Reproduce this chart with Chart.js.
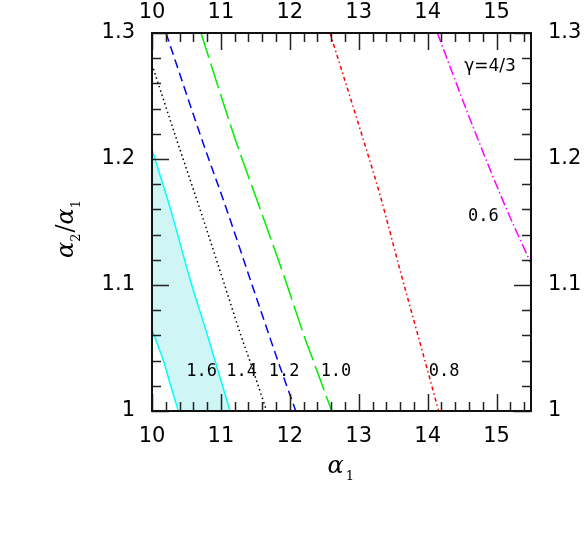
<!DOCTYPE html>
<html><head><meta charset="utf-8">
<script src="https://cdn.jsdelivr.net/npm/chart.js@4.4.0/dist/chart.umd.min.js"></script>
<style>html,body{margin:0;padding:0;background:#fff}#wrap{width:586px;height:545px}</style>
</head><body><div id="wrap"><canvas id="c" width="586" height="545"></canvas></div>
<script>
// ---- tick labels ----
const xTickValues = [10, 11, 12, 13, 14, 15];
const yTickValues = [1, 1.1, 1.2, 1.3];

// ---- curves (alpha1 values, alpha2/alpha1 values) ----
const cyanUpperX = [10.0, 10.27, 10.555, 10.805, 10.914, 11.132];
const cyanUpperY = [1.2076, 1.16, 1.104, 1.06, 1.04, 1.0];
const cyanLowerX = [10.0, 10.164, 10.271, 10.382];
const cyanLowerY = [1.0645, 1.04, 1.02, 1.0];
const blackX = [10.0, 10.358, 10.697, 11.03, 11.29, 11.418, 11.664];
const blackY = [1.275, 1.2153, 1.16, 1.104, 1.06, 1.04, 1.0];
const blueX = [10.203, 10.725, 11.083, 11.428, 11.70, 11.825, 12.086];
const blueY = [1.3, 1.2153, 1.16, 1.104, 1.06, 1.04, 1.0];
const greenX = [10.711, 11.21, 11.572, 11.935, 12.205, 12.34, 12.608];
const greenY = [1.3, 1.2153, 1.16, 1.104, 1.06, 1.04, 1.0];
const redX = [12.583, 13.019, 13.309, 13.599, 13.91, 14.16];
const redY = [1.3, 1.2238, 1.1714, 1.1119, 1.05, 1.0];
const magentaX = [14.141, 14.62, 15.109, 15.5];
const magentaY = [1.3, 1.231, 1.1648, 1.117];

// ---- curve labels ----
const labelTexts = ['1.6', '1.4', '1.2', '1.0', '0.8', '0.6', 'γ=4/3'];
const labelX = [10.721, 11.302, 11.916, 12.67, 14.24, 14.81, 14.906];
const labelY = [1.0314, 1.0314, 1.0314, 1.0314, 1.0314, 1.1544, 1.2735];

const pts = (xs, ys) => xs.map((v, i) => ({x: v, y: ys[i]}));
const fillShape = pts(cyanUpperX, cyanUpperY).concat(pts(cyanLowerX, cyanLowerY).reverse());

const line = (data, color, dash, order) => ({
  data, borderColor: color, borderWidth: 1.5, borderDash: dash, pointRadius: 0,
  fill: false, cubicInterpolationMode: 'monotone', order: order || 0
});

const TICKFONT = {family: 'DejaVu Sans', size: 21, weight: 'normal'};

const inwardTicks = {
  id: 'inwardTicks',
  afterDatasetsDraw(chart) {
    const {ctx, chartArea: a, scales} = chart;
    const x = scales.x, y = scales.y;
    ctx.save();
    ctx.strokeStyle = '#222';
    ctx.lineWidth = 1.5;
    ctx.beginPath();
    for (let i = 0; i <= 27; i++) {
      const v = 10 + i * 0.2;
      const L = (i % 5 === 0) ? 17 : 9;
      const px = Math.round(x.getPixelForValue(v)) + 0.5;
      ctx.moveTo(px, a.bottom); ctx.lineTo(px, a.bottom - L);
      ctx.moveTo(px, a.top); ctx.lineTo(px, a.top + L);
    }
    for (let i = 0; i <= 15; i++) {
      const v = 1 + i * 0.02;
      const L = (i % 5 === 0) ? 17 : 9;
      const py = Math.round(y.getPixelForValue(v)) + 0.5;
      ctx.moveTo(a.left, py); ctx.lineTo(a.left + L, py);
      ctx.moveTo(a.right, py); ctx.lineTo(a.right - L, py);
    }
    ctx.stroke();
    ctx.lineWidth = 2;
    ctx.strokeStyle = '#111';
    ctx.strokeRect(a.left, a.top, a.right - a.left, a.bottom - a.top);

    // curve labels
    ctx.fillStyle = '#000';
    ctx.textAlign = 'center';
    ctx.textBaseline = 'middle';
    labelTexts.forEach((t, i) => {
      ctx.font = (t.indexOf('γ') >= 0) ? '17px "DejaVu Sans"' : '17px "DejaVu Sans Mono"';
      ctx.fillText(t, x.getPixelForValue(labelX[i]), y.getPixelForValue(labelY[i]));
    });

    // axis titles
    ctx.textAlign = 'left';
    ctx.textBaseline = 'alphabetic';
    const cx = (a.left + a.right) / 2;
    ctx.font = 'italic 24px "DejaVu Serif"';
    ctx.fillText('α', cx - 14, a.bottom + 62);
    let w = ctx.measureText('α').width;
    ctx.font = '13px "DejaVu Serif"';
    ctx.fillText('1', cx - 14 + w + 2, a.bottom + 69);

    ctx.translate(a.left - 79, a.top + 225);
    ctx.rotate(-Math.PI / 2);
    let pos = 0;
    const part = (t, font, dy, gap) => {
      ctx.font = font; ctx.fillText(t, pos, dy); pos += ctx.measureText(t).width + (gap || 0);
    };
    part('α', 'italic 24px "DejaVu Serif"', 0, 0);
    part('2', '13px "DejaVu Serif"', 7, 1);
    part('/', '24px "DejaVu Serif"', 0, 0);
    part('α', 'italic 24px "DejaVu Serif"', 0, 0);
    part('1', '13px "DejaVu Serif"', 7, 0);
    ctx.restore();
  }
};

const fixTicks = (vals) => (s) => { s.ticks = vals.map(v => ({value: v})); };
const fmt = (v) => String(v);

new Chart(document.getElementById('c'), {
  type: 'line',
  data: {
    datasets: [
      {data: fillShape, borderWidth: 0, borderColor: 'rgba(0,0,0,0)', backgroundColor: 'rgb(207,245,245)',
       fill: 'shape', pointRadius: 0, tension: 0, order: 10},
      line(pts(cyanUpperX, cyanUpperY), '#00ffff', []),
      line(pts(cyanLowerX, cyanLowerY), '#00ffff', []),
      line(pts(blackX, blackY), '#000000', [1.5, 3]),
      line(pts(blueX, blueY), '#0000ff', [9, 5]),
      line(pts(greenX, greenY), '#00ee00', [26, 6]),
      line(pts(redX, redY), '#ff0000', [4, 3, 1.5, 3]),
      line(pts(magentaX, magentaY), '#ff00ff', [10, 3, 1.5, 3])
    ]
  },
  options: {
    responsive: false, animation: false, devicePixelRatio: 1,
    layout: {padding: 0},
    plugins: {legend: {display: false}, tooltip: {enabled: false}},
    scales: {
      x: {type: 'linear', position: 'bottom', min: 10, max: 15.5,
          afterBuildTicks: fixTicks(xTickValues), afterFit: s => { s.height = 134; },
          grid: {display: false, drawTicks: false}, border: {display: false},
          ticks: {autoSkip: false, maxRotation: 0, padding: 13, color: '#000', font: TICKFONT, callback: fmt}},
      x2: {type: 'linear', position: 'top', min: 10, max: 15.5,
          afterBuildTicks: fixTicks(xTickValues), afterFit: s => { s.height = 33; },
          grid: {display: false, drawTicks: false}, border: {display: false},
          ticks: {autoSkip: false, maxRotation: 0, padding: 8, color: '#000', font: TICKFONT, callback: fmt}},
      y: {type: 'linear', position: 'left', min: 1, max: 1.3,
          afterBuildTicks: fixTicks(yTickValues), afterFit: s => { s.width = 152; },
          grid: {display: false, drawTicks: false}, border: {display: false},
          ticks: {autoSkip: false, padding: 17, color: '#000', font: TICKFONT, callback: fmt}},
      y2: {type: 'linear', position: 'right', min: 1, max: 1.3,
          afterBuildTicks: fixTicks(yTickValues), afterFit: s => { s.width = 55; },
          grid: {display: false, drawTicks: false}, border: {display: false},
          ticks: {autoSkip: false, padding: 17, color: '#000', font: TICKFONT, callback: fmt}}
    }
  },
  plugins: [inwardTicks]
});
</script>
</body></html>
